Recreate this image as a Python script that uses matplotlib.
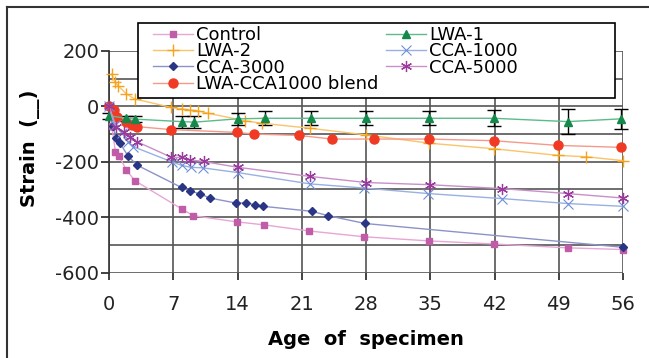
import numpy as np
import matplotlib
matplotlib.use("Agg")
import matplotlib.pyplot as plt
from matplotlib.patches import Rectangle
from matplotlib.lines import Line2D

plt.rcParams['font.family'] = 'DejaVu Sans'
plt.rcParams['axes.unicode_minus'] = False

# data (age in days, strain)
control_days = [0, 0.3, 0.7, 1.1, 1.9, 2.8, 7.9, 9.2, 13.9, 16.9, 21.8, 27.8, 34.9, 41.9, 50, 56]
control = [0, -70, -164, -180, -230, -268, -370, -395, -417, -428, -450, -471, -486, -497, -511, -517]

lwa2_days = [0.3, 0.6, 1.0, 1.9, 2.8, 6.8, 7.9, 8.8, 9.7, 10.8, 14.8, 16.7, 21.9, 28, 34.9, 41.9, 48.9, 52, 56]
lwa2 = [117, 89, 74, 45, 27, -4, -9, -13, -16, -25, -52, -61, -79, -103, -133, -153, -177, -182, -196]

cca3000_days = [0, 0.4, 0.8, 1.2, 2.1, 3.1, 7.9, 8.8, 9.9, 11, 13.8, 14.9, 15.9, 16.8, 22.1, 23.9, 27.9, 56]
cca3000 = [0, -70, -115, -133, -181, -213, -293, -305, -316, -331, -349, -349, -355, -361, -379, -395, -423, -509]

blend_days = [0, 0.5, 0.9, 1.9, 2.5, 3.0, 6.8, 13.9, 15.8, 20.7, 24.3, 28.9, 34.9, 41.9, 48.9, 55.8]
blend = [0, -14, -38, -56, -69, -73, -84, -94, -100, -105, -118, -118, -118, -124, -141, -148]

lwa1_days = [0, 1.9, 2.8, 7.9, 9.3, 14, 17, 22, 28, 34.9, 41.9, 50, 55.8]
lwa1 = [-34, -43, -46, -55, -57, -45, -43, -43, -43, -43, -43, -55, -45]
lwa1_err = [10, 10, 10, 22, 22, 22, 26, 26, 26, 26, 29, 45, 36]

cca1000_days = [0, 0.6, 1.4, 2.1, 2.6, 6.9, 7.9, 8.9, 10.2, 14, 21.9, 27.8, 34.8, 42.8, 50, 56]
cca1000 = [0, -66, -97, -127, -145, -201, -213, -220, -222, -239, -280, -295, -315, -333, -351, -361]

cca5000_days = [0, 0.8, 1.6, 2.3, 3.0, 6.8, 7.9, 8.8, 10.3, 14, 21.9, 28, 35, 42.8, 50, 56]
cca5000 = [0, -75, -91, -109, -127, -184, -184, -193, -199, -220, -253, -275, -283, -297, -315, -331]

x_ticks = [0, 7, 14, 21, 28, 35, 42, 49, 56]
y_ticks = [-600, -400, -200, 0, 200]

fig = plt.figure(figsize=(6.49, 3.58), dpi=100)
ax = fig.add_axes([109/649, 1-272.5/358, 514/649, 221.5/358])

handles = []

def series(x, y, label, marker, mcolor, lcolor, ms, mew=1.0, filled=True):
    mfc = mcolor if filled else 'none'
    ax.plot(x, y, color=lcolor, lw=1.0, marker=marker, ms=ms,
            mfc=mfc, mec=mcolor, mew=mew, zorder=3, clip_on=False)
    h = Line2D([], [], color=lcolor, lw=1.0, marker=marker, ms=ms,
               mfc=mfc, mec=mcolor, mew=mew)
    handles.append((h, label))

series(control_days, control, 'Control', 's', '#C05CA8', '#E8A6D6', 5)
series(lwa2_days, lwa2, 'LWA-2', '+', '#F5A21C', '#F9C46A', 9, 1.0)
series(cca3000_days, cca3000, 'CCA-3000', 'D', '#2B3585', '#8C93C8', 4.5)
series(blend_days, blend, 'LWA-CCA1000 blend', 'o', '#F03A24', '#F59A8A', 6.5)

ax.errorbar(lwa1_days, lwa1, yerr=lwa1_err, fmt='none', ecolor='black',
            elinewidth=1.0, capsize=5, capthick=1.0, zorder=2, clip_on=False)
series(lwa1_days, lwa1, 'LWA-1', '^', '#14884A', '#5DBB8A', 6)
series(cca1000_days, cca1000, 'CCA-1000', 'x', '#6F8FD8', '#9AB0E2', 7, 0.8)
series(cca5000_days, cca5000, 'CCA-5000', (6, 2, 0), '#9A3A9C', '#C890C8', 8, 0.9)

ax.set_xlim(0, 56)
ax.set_ylim(-600, 200)
ax.set_xticks(x_ticks)
ax.set_yticks(y_ticks)
ax.set_yticks([-500, -300, -100, 100], minor=True)
ax.tick_params(axis='y', which='minor', length=0)
ax.tick_params(axis='y', which='major', length=6, width=1.2, pad=1, labelsize=14, colors='#222222')
ax.tick_params(axis='x', which='major', length=5, width=1.2, pad=11, labelsize=14, colors='#222222')
ax.grid(True, which='both', color='#555555', lw=1.2)
ax.set_axisbelow(True)
for s in ['top', 'right', 'bottom']:
    ax.spines[s].set_visible(False)
ax.spines['left'].set_color('#333333')
ax.spines['left'].set_linewidth(1.2)

ax.set_xlabel('Age  of  specimen', fontsize=14, fontweight='bold', labelpad=12)
ax.set_ylabel('Strain  (__)', fontsize=14, fontweight='bold')
ax.yaxis.set_label_coords(-0.135, 0.56)

# legend box
rect = Rectangle((138/649, 1-98/358), 477/649, 75/358, transform=fig.transFigure,
                 facecolor='white', edgecolor='black', lw=1.2, zorder=4)
fig.patches.append(rect)
leg = fig.legend([h for h, _ in handles], [l for _, l in handles],
                 loc='upper left', bbox_to_anchor=(153/649, 1-26/358), ncol=2,
                 frameon=False, fontsize=13, borderpad=0, borderaxespad=0,
                 labelspacing=-0.09, handlelength=2.2, handletextpad=0.2,
                 columnspacing=0.4)
leg.set_zorder(6)

# outer frame (top and left only)
fig.add_artist(Line2D([7/649, 1], [1-6.5/358, 1-6.5/358], color='#333333', lw=1.5, transform=fig.transFigure))
fig.add_artist(Line2D([7/649, 7/649], [0, 1-6.5/358], color='#333333', lw=1.5, transform=fig.transFigure))

fig.savefig('out.png', dpi=100, facecolor='white')
